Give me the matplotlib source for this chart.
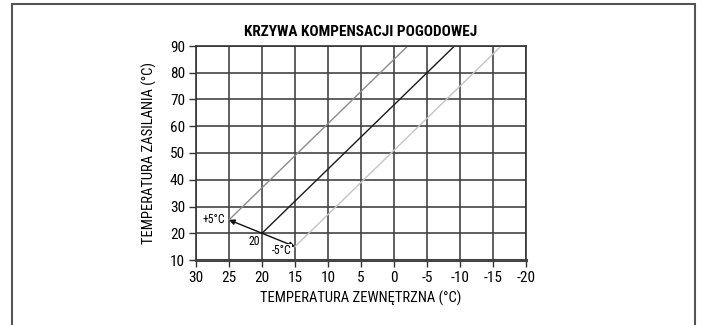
import matplotlib
matplotlib.use("Agg")
import matplotlib.pyplot as plt
from matplotlib.patches import Rectangle

plt.rcParams["font.family"] = ["Roboto Condensed", "DejaVu Sans"]

title = "KRZYWA KOMPENSACJI POGODOWEJ"
xlabel = "TEMPERATURA ZEWNĘTRZNA (°C)"
ylabel = "TEMPERATURA ZASILANIA (°C)"

x_ticks = [30, 25, 20, 15, 10, 5, 0, -5, -10, -15, -20]
y_ticks = [10, 20, 30, 40, 50, 60, 70, 80, 90]

# Heating curves: outdoor temperature vs. supply temperature
curve_base_x = [20, -9.17]
curve_base_y = [20, 90]
curve_plus_x = [25, -2.08]
curve_plus_y = [25, 90]
curve_minus_x = [15, -16.25]
curve_minus_y = [15, 90]

shift_origin = (20, 20)
shift_plus = (25, 25)
shift_minus = (15, 15)

fig = plt.figure(figsize=(7.02, 3.25), dpi=100)
fig.patches.append(Rectangle((12 / 702, -0.1), (695 - 12) / 702, 1.1 - 4.5 / 325,
                             transform=fig.transFigure, fill=False,
                             edgecolor="#555555", linewidth=1.5))

ax = fig.add_axes([196 / 702, 1 - 260 / 325, (526 - 196) / 702, (260 - 46) / 325])
ax.set_xlim(30, -20)
ax.set_ylim(10, 90)
ax.set_xticks(x_ticks)
ax.set_yticks(y_ticks)
ax.set_xticklabels([str(v) for v in x_ticks])
ax.set_yticklabels([str(v) for v in y_ticks])
ax.grid(True, color="#444444", linewidth=1.2)
ax.set_axisbelow(True)
for side in ["top", "left", "right"]:
    ax.spines[side].set_color("#333333")
    ax.spines[side].set_linewidth(1.2)
ax.spines["bottom"].set_color("#444444")
ax.spines["bottom"].set_linewidth(2.2)
ax.tick_params(axis="both", direction="out", length=5, width=1, color="#333333",
               labelsize=11, pad=3)

ax.plot(curve_plus_x, curve_plus_y, color="#8c8c8c", linewidth=1)
ax.plot(curve_base_x, curve_base_y, color="#1a1a1a", linewidth=1)
ax.plot(curve_minus_x, curve_minus_y, color="#c4c4c4", linewidth=1)

for target in (shift_plus, shift_minus):
    ax.annotate("", xy=target, xytext=shift_origin,
                arrowprops=dict(arrowstyle="-|>", color="#111111", lw=1,
                                mutation_scale=8, shrinkA=0, shrinkB=0))

label_box = dict(facecolor="white", edgecolor="none", pad=0.5)
ax.text(25.6, 25, "+5°C", ha="right", va="center", fontsize=8.5, bbox=label_box)
ax.text(20.3, 17.0, "20", ha="right", va="center", fontsize=8.5, bbox=label_box)
ax.text(15.6, 13.4, "-5°C", ha="right", va="center", fontsize=8.5, bbox=label_box)

ax.set_title(title, fontsize=11, fontweight="bold", pad=7)
ax.set_xlabel(xlabel, fontsize=10.5, labelpad=4)
ax.set_ylabel(ylabel, fontsize=10.5, labelpad=9)

fig.savefig("out.png", dpi=100)
